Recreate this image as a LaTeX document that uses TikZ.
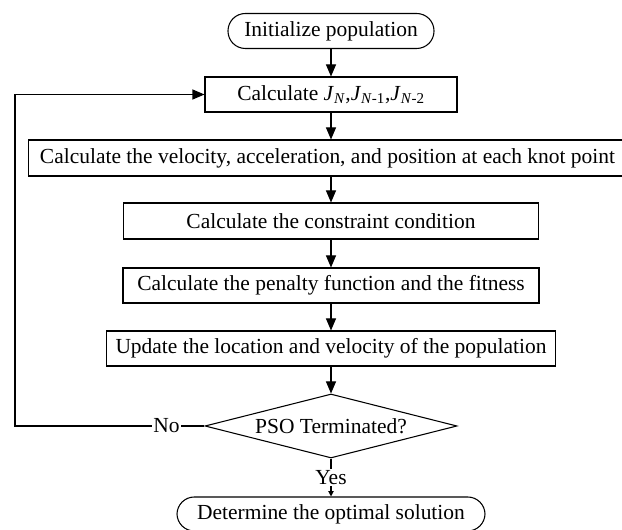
\documentclass[tikz,border=0pt]{standalone}
\usepackage{fontspec}
\setmainfont{Liberation Serif}
\usetikzlibrary{arrows.meta,shapes.geometric}
\begin{document}
\begin{tikzpicture}
                [x=0.75pt, y=-0.75pt, line width=0.8pt,
                 font=\fontsize{16.1}{19}\selectfont,
                 box/.style={rectangle, draw, inner sep=0pt, minimum height=26.25pt},
                 term/.style={rectangle, draw, rounded corners=13pt, inner sep=0pt, minimum height=26.25pt},
                 test/.style={diamond, draw, inner sep=0pt, aspect=4, minimum width=189pt, minimum height=48pt},
                 arr/.style={-{Triangle[length=9pt, width=7.5pt]}},
                 tip/.style={-{Triangle[length=4pt, width=4pt]}}]
                \useasboundingbox (0,0) rectangle (622,530);
                % Define nodes
                \node[term, minimum width=154.5pt] (init) at (331,31) {Initialize population};
                \node[box, minimum width=189pt] (calcj) at (331,94.5) {Calculate \textit{J}\textsubscript{\textit{N}},\textit{J}\textsubscript{\textit{N}-1},\textit{J}\textsubscript{\textit{N}-2}};
                \node[box, minimum width=448pt, minimum height=27pt] (velo) at (327.5,158) {Calculate the velocity, acceleration, and position at each knot point};
                \node[box, minimum width=311pt, minimum height=27pt] (constr) at (331,221) {Calculate the constraint condition};
                \node[box, minimum width=312pt] (penal) at (331,285.5) {Calculate the penalty function and the fitness};
                \node[box, minimum width=337pt] (upd) at (331,348.5) {Update the location and velocity of the population};
                \node[test] (dec) at (331,426) {PSO Terminated?};
                \node[term, minimum width=231pt, minimum height=25.5pt] (fin) at (331,514) {Determine the optimal solution};
                \coordinate (loop) at (15,426);
                % Define edges
                \draw[arr] (init) -- (calcj);
                \draw[arr] (calcj) -- (calcj |- velo.north);
                \draw[arr] (velo.south -| constr) -- (constr);
                \draw[arr] (constr) -- (penal);
                \draw[arr] (penal) -- (upd);
                \draw[arr] (upd) -- (dec);
                \draw[tip] (dec) -- node[fill=white, inner sep=1pt] {Yes} (fin);
                \draw[arr] (dec.west) -- node[pos=0.2, fill=white, inner sep=1pt] {No} (loop) |- (calcj.west);
            \end{tikzpicture}
\end{document}
